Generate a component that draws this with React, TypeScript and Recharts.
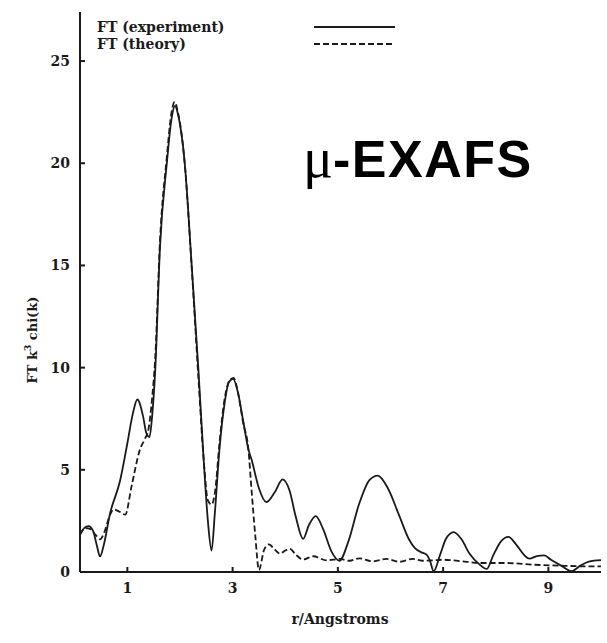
import React from "react";
import { LineChart, Line, XAxis, YAxis } from "recharts";

// Fourier transform magnitude of k^3-weighted chi(k), experiment vs. fitted theory
const experimentR = [
  0.1, 0.18, 0.26, 0.35, 0.42, 0.48, 0.55, 0.67, 0.86, 1.0, 1.1, 1.19, 1.3, 1.36, 1.42, 1.47,
  1.53, 1.62, 1.75, 1.84, 1.905, 1.97, 2.09, 2.22, 2.35, 2.45, 2.53, 2.6, 2.66, 2.75, 2.85,
  2.93, 3.01, 3.1, 3.2, 3.3, 3.36, 3.5, 3.64, 3.8, 3.95, 4.08, 4.2, 4.34, 4.45, 4.58, 4.72,
  4.88, 5.03, 5.2, 5.4, 5.6, 5.76, 5.95, 6.17, 6.35, 6.46, 6.6, 6.68, 6.75, 6.82, 6.95, 7.05,
  7.2, 7.35, 7.5, 7.7, 7.83, 7.95, 8.1, 8.24, 8.4, 8.55, 8.64, 8.78, 8.92, 9.05, 9.25, 9.44,
  9.6, 9.77, 10.0,
];
const experimentFT = [
  1.83, 2.15, 2.24, 2.0, 1.3, 0.76, 1.3, 2.85, 4.45, 6.3, 7.7, 8.44, 7.6, 6.8, 6.6, 7.6,
  9.9, 15.9, 20.0, 22.2, 22.8, 22.3, 20.0, 15.1, 9.9, 5.5, 2.5, 1.05, 2.8, 6.0, 8.3,
  9.3, 9.45, 8.8, 7.4, 6.0, 5.5, 4.1, 3.42, 3.9, 4.53, 4.0, 2.7, 1.62, 2.3, 2.73, 2.1,
  1.0, 0.55, 1.5, 3.3, 4.5, 4.72, 4.1, 2.73, 1.6, 1.18, 0.95, 0.86, 0.55, 0.04, 0.9, 1.6,
  1.95, 1.6, 0.9, 0.35, 0.15, 0.8, 1.5, 1.72, 1.3, 0.8, 0.65, 0.78, 0.81, 0.6, 0.3, 0.04,
  0.3, 0.51, 0.58,
];

const theoryR = [
  0.1, 0.2, 0.3, 0.4, 0.48, 0.57, 0.67, 0.74, 0.85, 0.96, 1.08, 1.24, 1.33, 1.4, 1.47,
  1.53, 1.62, 1.75, 1.84, 1.9, 1.96, 2.09, 2.22, 2.35, 2.45, 2.53, 2.6, 2.67, 2.75, 2.85,
  2.95, 3.02, 3.1, 3.2, 3.3, 3.36, 3.43, 3.5, 3.6, 3.69, 3.8, 3.9, 4.0, 4.09, 4.2, 4.34,
  4.53, 4.79, 5.04, 5.22, 5.41, 5.66, 5.92, 6.17, 6.42, 6.6, 6.8, 7.0, 7.18, 7.45, 7.69,
  8.19, 8.7, 9.2, 9.71, 10.0,
];
const theoryFT = [
  1.83, 2.15, 2.1, 1.8, 1.6, 2.0, 2.8, 3.06, 2.95, 2.81, 4.2, 6.0, 6.5, 6.97, 8.5,
  10.5, 16.2, 20.3, 22.5, 23.0, 22.5, 20.0, 15.0, 9.5, 5.5, 3.5, 3.3, 4.0, 6.3, 8.5,
  9.4, 9.5, 8.8, 7.3, 6.0, 4.0, 1.8, 0.1, 1.1, 1.35, 1.1, 0.9, 1.05, 1.13, 0.85, 0.61,
  0.77, 0.57, 0.64, 0.55, 0.67, 0.52, 0.64, 0.5, 0.64, 0.55, 0.57, 0.6, 0.57, 0.5, 0.44,
  0.44, 0.36, 0.31, 0.28, 0.28,
];

const rTicks = [1, 3, 5, 7, 9];
const ftTicks = [0, 5, 10, 15, 20, 25];
const seriesNames = ["FT (experiment)", "FT (theory)"];

const experiment = experimentR.map((r, i) => ({ r, ft: experimentFT[i] }));
const theory = theoryR.map((r, i) => ({ r, ft: theoryFT[i] }));

const INK = "#1a1a1a";
const SERIF = "'DejaVu Serif', serif";
const tickFont = { fontFamily: SERIF, fontWeight: 700, fontSize: 14, fill: INK };

export default function App() {
  return (
    <div style={{ position: "absolute", left: 0, top: 0, background: "#fff" }}>
      <LineChart
        width={607}
        height={643}
        margin={{ top: 12, right: 6, bottom: 10, left: 0 }}
      >
        <XAxis
          xAxisId="b"
          dataKey="r"
          type="number"
          domain={[0.1, 10]}
          ticks={rTicks}
          allowDataOverflow
          height={61}
          stroke={INK}
          strokeWidth={2}
          tickSize={-5}
          tickMargin={16}
          tick={tickFont}
        />
        <XAxis
          xAxisId="t"
          orientation="top"
          dataKey="r"
          type="number"
          domain={[0.1, 10]}
          ticks={rTicks}
          allowDataOverflow
          height={0}
          stroke={INK}
          strokeWidth={2}
          tickSize={-5}
          tick={false}
        />
        <YAxis
          yAxisId="l"
          type="number"
          domain={[0, 27.4]}
          ticks={ftTicks}
          allowDataOverflow
          width={80}
          stroke={INK}
          strokeWidth={2}
          tickSize={-5}
          tickMargin={15}
          tick={tickFont}
        />
        <YAxis
          yAxisId="r"
          orientation="right"
          type="number"
          domain={[0, 27.4]}
          ticks={ftTicks}
          allowDataOverflow
          width={0}
          stroke={INK}
          strokeWidth={2}
          tickSize={-5}
          tick={false}
        />
        <Line
          xAxisId="b"
          yAxisId="l"
          data={theory}
          dataKey="ft"
          name={seriesNames[1]}
          type="monotone"
          stroke={INK}
          strokeWidth={1.8}
          strokeDasharray="6 3"
          dot={false}
          isAnimationActive={false}
        />
        <Line
          xAxisId="b"
          yAxisId="l"
          data={experiment}
          dataKey="ft"
          name={seriesNames[0]}
          type="monotone"
          stroke={INK}
          strokeWidth={1.8}
          dot={false}
          isAnimationActive={false}
        />

        {/* key in the upper-left corner */}
        <g fontFamily={SERIF} fontWeight={700} fontSize={14} fill={INK}>
          <text x={97} y={32}>{seriesNames[0]}</text>
          <text x={97} y={49}>{seriesNames[1]}</text>
        </g>
        <line x1={314} x2={395} y1={27} y2={27} stroke={INK} strokeWidth={1.8} />
        <line x1={314} x2={395} y1={44} y2={44} stroke={INK} strokeWidth={1.8} strokeDasharray="6 3" />

        {/* axis titles */}
        <text x={340} y={624} textAnchor="middle" fontFamily={SERIF} fontWeight={700} fontSize={14} fill={INK}>
          r/Angstroms
        </text>
        <text
          transform="translate(37, 340) rotate(-90)"
          textAnchor="middle"
          fontFamily={SERIF}
          fontWeight={700}
          fontSize={13}
          fill={INK}
        >
          FT k<tspan dy={-6} fontSize={9}>3</tspan>
          <tspan dy={6}> chi(k)</tspan>
        </text>

        {/* technique label */}
        <text x={303} y={177} fill="#000">
          <tspan fontFamily="'Liberation Serif', serif" fontSize={56}>μ</tspan>
          <tspan fontFamily="'Liberation Sans', Arial, sans-serif" fontWeight={700} fontSize={52} letterSpacing={1.5}>-EXAFS</tspan>
        </text>
      </LineChart>
    </div>
  );
}
